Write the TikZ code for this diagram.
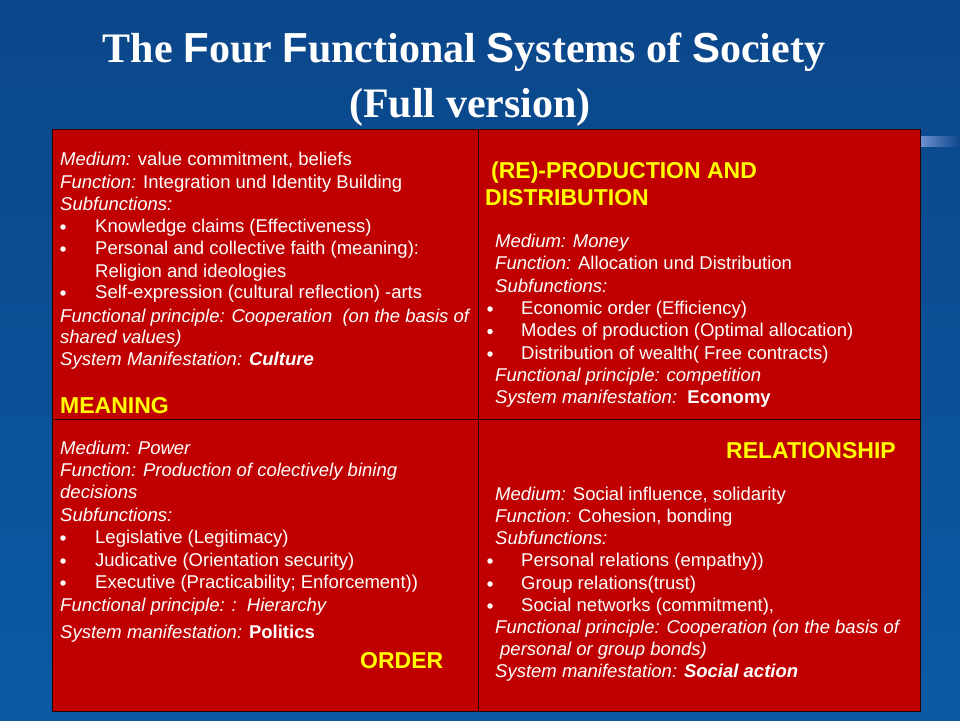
\documentclass[tikz,border=0pt]{standalone}
\usepackage{fontspec}
\setmainfont{Liberation Sans}
\newfontfamily\titlefont{Liberation Serif}
\newfontfamily\arialfont{Liberation Sans}
\definecolor{bgtop}{RGB}{11,70,138}
\definecolor{bgbot}{RGB}{10,90,163}
\definecolor{cellred}{RGB}{192,0,0}
\definecolor{lineclr}{RGB}{40,0,0}
\definecolor{barlight}{RGB}{110,145,210}
\definecolor{labyellow}{RGB}{255,255,0}
\tikzset{
  cell/.style={draw=lineclr, line width=1pt, fill=cellred, inner sep=0pt, outer sep=0pt, anchor=north west},
  txt/.style={anchor=base west, inner sep=0pt, text=white, font=\fontsize{18.5}{22}\selectfont},
  bul/.style={circle, fill=white, draw=none, inner sep=0pt, minimum size=5.5pt},
  lab/.style={anchor=base west, inner sep=0pt, text=labyellow, font=\bfseries\fontsize{23}{27}\selectfont},
  ttl/.style={anchor=base, inner sep=0pt, text=white, font=\titlefont\bfseries\fontsize{42}{50}\selectfont}
}
\begin{document}
\begin{tikzpicture}[x=1pt,y=-1pt]
\useasboundingbox (0,0) rectangle (960,720);
\shade[top color=bgtop, bottom color=bgbot] (0,0) rectangle (960,720);
\shade[left color=barlight, right color=bgtop] (920,136) rectangle (960,146);

% title
\node[ttl] (t1) at (464,62) {The {\arialfont\bfseries F}our {\arialfont\bfseries F}unctional {\arialfont\bfseries S}ystems of {\arialfont\bfseries S}ociety};
\node[ttl] (t2) at (470,117) {(Full version)};

% cells
\node[cell, minimum width=426pt, minimum height=290pt] (c1) at (52,129) {};
\node[cell, minimum width=442pt, minimum height=290pt] (c2) at (478,129) {};
\node[cell, minimum width=426pt, minimum height=292pt] (c3) at (52,419) {};
\node[cell, minimum width=442pt, minimum height=292pt] (c4) at (478,419) {};

% Q1
\node[txt] (a1) at (60,165) {\textit{Medium:} value commitment, beliefs};
\node[txt] (a2) at (60,188) {\textit{Function:} Integration und Identity Building};
\node[txt] (a3) at (60,210) {\textit{Subfunctions:}};
\node[bul] (ab1) at (63,227) {};
\node[txt] (a4) at (95,232) {Knowledge claims (Effectiveness)};
\node[bul] (ab2) at (63,249) {};
\node[txt] (a5) at (95,254) {Personal and collective faith (meaning):};
\node[txt] (a6) at (95,277) {Religion and ideologies};
\node[bul] (ab3) at (63,293) {};
\node[txt] (a7) at (95,298) {Self-expression (cultural reflection) -arts};
\node[txt] (a8) at (60,322) {\textit{Functional principle: Cooperation\ \ (on the basis of}};
\node[txt] (a9) at (60,343) {\textit{shared values)}};
\node[txt] (a10) at (60,365) {\textit{System Manifestation:} \textbf{\textit{Culture}}};
\node[lab] (a11) at (60,413) {MEANING};

% Q2
\node[lab] (b1) at (491,178) {(RE)-PRODUCTION AND};
\node[lab] (b2) at (485,205) {DISTRIBUTION};
\node[txt] (b3) at (495,247) {\textit{Medium: Money}};
\node[txt] (b4) at (495,269.5) {\textit{Function:} Allocation und Distribution};
\node[txt] (b5) at (495,292) {\textit{Subfunctions:}};
\node[bul] (bb1) at (490,309) {};
\node[txt] (b6) at (521,314) {Economic order (Efficiency)};
\node[bul] (bb2) at (490,331.5) {};
\node[txt] (b7) at (521,336.5) {Modes of production (Optimal allocation)};
\node[bul] (bb3) at (490,354) {};
\node[txt] (b8) at (521,359) {Distribution of wealth( Free contracts)};
\node[txt] (b9) at (495,381) {\textit{Functional principle: competition}};
\node[txt] (b10) at (495,403) {\textit{System manifestation:}\ \ \textbf{Economy}};

% Q3
\node[txt] (d1) at (60,454) {\textit{Medium: Power}};
\node[txt] (d2) at (60,476) {\textit{Function: Production of colectively bining}};
\node[txt] (d3) at (60,498) {\textit{decisions}};
\node[txt] (d4) at (60,521) {\textit{Subfunctions:}};
\node[bul] (db1) at (63,538) {};
\node[txt] (d5) at (95,543) {Legislative (Legitimacy)};
\node[bul] (db2) at (63,561) {};
\node[txt] (d6) at (95,566) {Judicative (Orientation security)};
\node[bul] (db3) at (63,583) {};
\node[txt] (d7) at (95,588) {Executive (Practicability; Enforcement))};
\node[txt] (d8) at (60,611) {\textit{Functional principle: :\ \ Hierarchy}};
\node[txt] (d9) at (60,638) {\textit{System manifestation:} \textbf{Politics}};
\node[lab] (d10) at (360,668) {ORDER};

% Q4
\node[lab] (e1) at (726,458) {RELATIONSHIP};
\node[txt] (e2) at (495,500) {\textit{Medium:} Social influence, solidarity};
\node[txt] (e3) at (495,522) {\textit{Function:} Cohesion, bonding};
\node[txt] (e4) at (495,544) {\textit{Subfunctions:}};
\node[bul] (eb1) at (490,561) {};
\node[txt] (e5) at (521,566) {Personal relations (empathy))};
\node[bul] (eb2) at (490,584) {};
\node[txt] (e6) at (521,589) {Group relations(trust)};
\node[bul] (eb3) at (490,606) {};
\node[txt] (e7) at (521,611) {Social networks (commitment),};
\node[txt] (e8) at (495,633) {\textit{Functional principle: Cooperation (on the basis of}};
\node[txt] (e9) at (500,655) {\textit{personal or group bonds)}};
\node[txt] (e10) at (495,677) {\textit{System manifestation:} \textbf{\textit{Social action}}};
\end{tikzpicture}
\end{document}
